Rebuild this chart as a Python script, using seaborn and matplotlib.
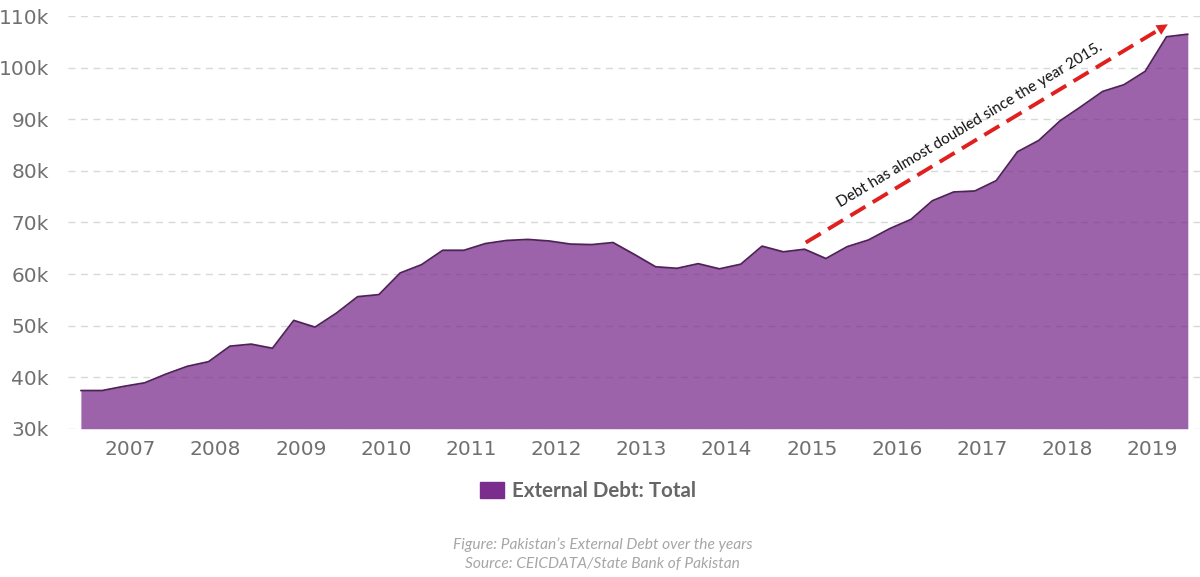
#!/usr/bin/env python
# -*- coding: utf-8 -*-

"""Pakistan's external debt, quarterly, as a filled area chart."""

# %% Data.

import pandas as pd
import seaborn as sns
import matplotlib.pyplot as plt
from matplotlib.patches import Patch
from matplotlib.ticker import FuncFormatter

# Quarterly observations, June 2006 to June 2019 (USD mn).
quarters = pd.date_range(start="2006-06-01", periods=53, freq="3MS")
debt = [
    37400, 37400, 38200, 38900, 40600, 42100, 43000, 46000, 46400, 45600,
    51000, 49700, 52400, 55600, 56000, 60200, 61800, 64600, 64600, 65900,
    66500, 66700, 66400, 65800, 65700, 66100, 63800, 61400, 61100, 62000,
    61000, 61900, 65400, 64300, 64800, 63000, 65300, 66600, 68800, 70600,
    74200, 75900, 76100, 78100, 83700, 85900, 89700, 92500, 95400, 96700,
    99300, 106000, 106500,
]
years = list(range(2007, 2020))
y_ticks = list(range(30000, 110001, 10000))

series_name = "External Debt: Total"
note = "Debt has almost doubled since the year 2015."
caption = ["Figure: Pakistan\u2019s External Debt over the years",
           "Source: CEICDATA/State Bank of Pakistan"]

df = pd.DataFrame({"date": quarters, "debt": debt})
df["t"] = df["date"].dt.year + (df["date"].dt.month - 1) / 12

# %% Plot.

sns.set_theme(style="white")
plt.rcParams["font.family"] = ["DejaVu Sans"]

line_color = "#4f2357"
fill_color = "#7b2d8e"
grey = "#707070"

fig = plt.figure(figsize=(12, 5.77), dpi=100)
ax = fig.add_axes([0.057, 0.257, 0.943, 0.715])

ax.fill_between(df["t"], df["debt"], 30000, color=fill_color, alpha=0.75,
                linewidth=0, zorder=2)
sns.lineplot(data=df, x="t", y="debt", ax=ax, color=line_color,
             linewidth=1.3, zorder=3)

ax.set_xlim(2006.27, 2019.56)
ax.set_ylim(30000, 110000)
ax.set_xticks(years)
ax.set_xticklabels([str(y) for y in years])
ax.set_yticks(y_ticks)
ax.yaxis.set_major_formatter(FuncFormatter(lambda v, p: f"{int(v / 1000)}k"))
ax.tick_params(axis="both", length=0, labelsize=14.5, labelcolor=grey)
ax.tick_params(axis="y", pad=14)
ax.tick_params(axis="x", pad=8)
ax.set_xlabel("")
ax.set_ylabel("")
ax.grid(axis="y", color="#d9d9d9", linestyle=(0, (5, 4)), linewidth=1,
        zorder=1)
for spine in ax.spines.values():
    spine.set_visible(False)

# Trend arrow and note.
x0, y0, x1, y1 = 2014.93, 66100, 2019.21, 108700
ax.plot([x0, x1 - 0.12], [y0, y1 - 1200], color="#e0201e", linewidth=2.8,
        linestyle=(0, (4.5, 2.2)), zorder=4)
ax.annotate("", xy=(x1, y1), xytext=(x1 - 0.15, y1 - 1500),
            arrowprops=dict(arrowstyle="-|>", color="#e0201e",
                            mutation_scale=20, linewidth=0),
            zorder=4)
ax.text(2016.86, 88900, note, rotation=31, rotation_mode="anchor",
        ha="center", va="center", fontsize=11, family=["Lato", "DejaVu Sans"],
        color="#111111", zorder=5)

fig.legend(handles=[Patch(facecolor=fill_color, edgecolor=fill_color)],
           labels=[series_name], loc="center",
           bbox_to_anchor=(0.49, 1 - 491 / 577), frameon=False,
           handlelength=1.2, handleheight=0.8, handletextpad=0.4,
           prop=dict(family=["Lato", "DejaVu Sans"], weight="bold", size=14.8),
           labelcolor="#666666")

fig.text(0.502, 1 - 545 / 577, caption[0], ha="center", va="center",
         fontsize=11.2, style="italic", color="#a6a6a6",
         family=["Lato", "DejaVu Sans"])
fig.text(0.502, 1 - 564 / 577, caption[1], ha="center", va="center",
         fontsize=11.2, style="italic", color="#a6a6a6",
         family=["Lato", "DejaVu Sans"])

fig.savefig("out.png", dpi=100)
